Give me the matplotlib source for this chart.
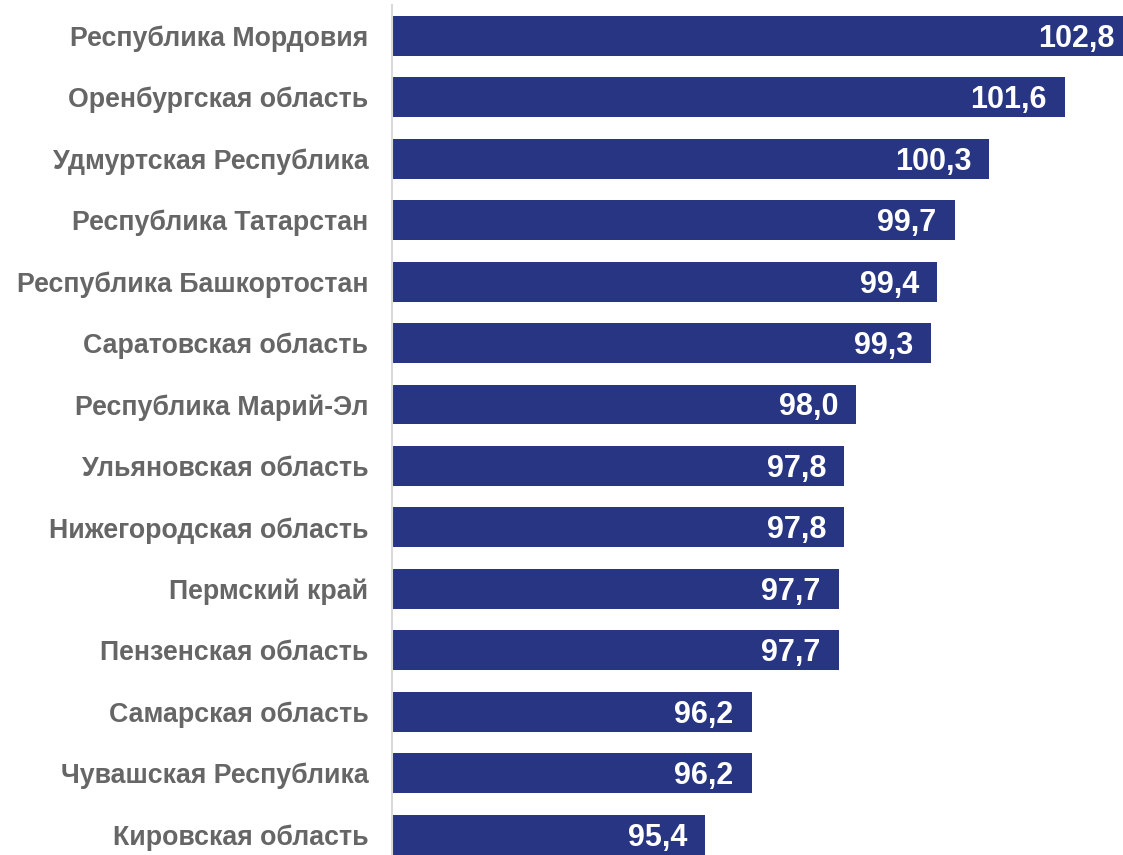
import matplotlib.pyplot as plt

regions = ['Республика Мордовия', 'Оренбургская область', 'Удмуртская Республика',
           'Республика Татарстан', 'Республика Башкортостан', 'Саратовская область',
           'Республика Марий-Эл', 'Ульяновская область', 'Нижегородская область',
           'Пермский край', 'Пензенская область', 'Самарская область',
           'Чувашская Республика', 'Кировская область']
values = [102.8, 101.6, 100.3, 99.7, 99.4, 99.3, 98.0, 97.8, 97.8, 97.7, 97.7, 96.2, 96.2, 95.4]

plt.rcParams['font.family'] = ['Liberation Sans', 'DejaVu Sans']

fig = plt.figure(figsize=(11.23, 8.55), dpi=100)
ax = fig.add_axes([392 / 1123, 0, 1 - 392 / 1123, 850 / 855])

pos = list(range(len(regions)))
ax.barh(pos, [v - 90 for v in values], left=90, height=0.65, color='#283583')

xmax = 90 + (1123 - 392) / 58
for p, v in zip(pos, values):
    # the longest bar runs past the right edge, so pin its label inside the frame
    ax.annotate(f'{v:.1f}'.replace('.', ','), xy=(min(v, xmax), p),
                xytext=(-8 if v > xmax else -18, -3),
                textcoords='offset pixels', ha='right', va='center',
                color='white', fontsize=22, fontweight='bold', annotation_clip=False)

ax.set_xlim(90, xmax)
ax.set_ylim(13.33, -0.5)
ax.set_yticks(pos)
ax.set_yticklabels(regions, fontsize=19.3, fontweight='bold', color='#666666')
ax.tick_params(axis='y', length=0, pad=17)
ax.set_xticks([])

for s in ['top', 'right', 'bottom']:
    ax.spines[s].set_visible(False)
ax.spines['left'].set_color('#d9d9d9')
ax.spines['left'].set_linewidth(1.5)

fig.savefig('out.png', dpi=100)
